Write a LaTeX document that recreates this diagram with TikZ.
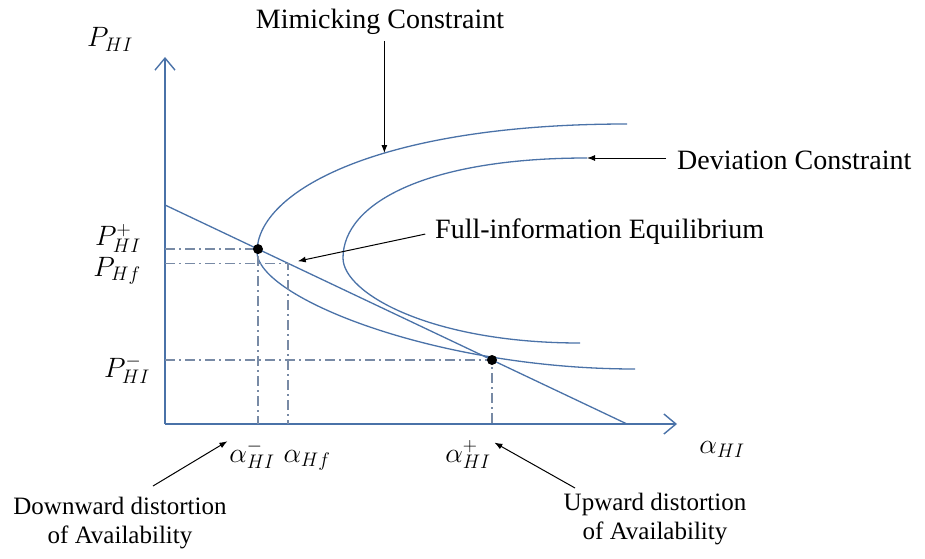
\documentclass[tikz,border=0pt]{standalone}
\usepackage{fix-cm}
\usepackage{fontspec}
\setmainfont{Liberation Serif}
\usetikzlibrary{arrows.meta,calc}

\definecolor{curveblue}{RGB}{74,114,168}
\definecolor{guidegray}{RGB}{120,138,165}

\tikzset{
  curve/.style={draw=curveblue, line width=1.3pt},
  axis/.style={draw=curveblue, line width=1.4pt, -{Straight Barb[length=12pt,width=20pt]}},
  guide/.style={draw=guidegray, line width=1.2pt, dash pattern=on 10pt off 4pt on 2pt off 4pt},
  note/.style={draw=black, line width=1pt, -{Latex[length=8pt,width=6pt]}},
  lbl/.style={font=\fontsize{28}{33}\selectfont, inner sep=0pt, anchor=base},
  title/.style={font=\fontsize{28}{32}\selectfont, inner sep=0pt},
  remark/.style={font=\fontsize{25}{29}\selectfont, inner sep=0pt, align=center}
}

\begin{document}
\begin{tikzpicture}[x=1pt,y=1pt]
    \useasboundingbox (0,0) rectangle (925,558);

    % Axes
    \coordinate (O) at (165,134);
    \draw[axis] (O) -- (165,501);
    \draw[axis] (O) -- (677,134);

    % Straight line and the points on it
    \draw[curve] (165,353) coordinate (dA) -- (627,134) coordinate (dB);
    \coordinate (eqm) at ($(dA)!0.2013!(dB)$);
    \coordinate (fi)  at ($(dA)!0.2662!(dB)$);
    \coordinate (eqp) at ($(dA)!0.7078!(dB)$);

    % Mimicking constraint
    \draw[curve] (627,434) .. controls (377,434) and (257,366) .. (257,306)
        coordinate[pos=0.41] (mc)
        .. controls (257,261) and (435,189) .. (635,189);

    % Deviation constraint
    \draw[curve] (587,400) coordinate (dc) .. controls (427,400) and (343,355) .. (343,300)
        .. controls (343,265) and (430,215) .. (580,215);

    % Guide lines
    \draw[guide] (O |- eqm) -- (eqm) -- (eqm |- O);
    \draw[guide] (O |- fi) -- (fi) -- (fi |- O);
    \draw[guide] (O |- eqp) -- (eqp) -- (eqp |- O);

    \fill (eqm) circle (5pt);
    \fill (eqp) circle (5pt);

    % Axis labels
    \node[lbl] (pt) at (110,511) {$P_{HI}$};
    \node[lbl, anchor=south] (pp) at (118,305) {$P^+_{HI}$};
    \node[lbl, anchor=north] (pf) at (117,301) {$P_{Hf}$};
    \node[lbl] (pm) at (127,181) {$P^-_{HI}$};
    \node[lbl] (am) at (252,96) {$\alpha^-_{HI}$};
    \node[lbl] (af) at (307,96) {$\alpha_{Hf}$};
    \node[lbl] (ap) at (468,96) {$\alpha^+_{HI}$};
    \node[lbl] (ax) at (722,105) {$\alpha_{HI}$};

    % Annotations
    \node[title] (mimic) at (380,536) {Mimicking Constraint};
    \node[title, anchor=west] (devtxt) at (677,398) {Deviation Constraint};
    \node[title, anchor=west] (fitxt) at (435,326) {Full-information Equilibrium};
    \node[remark] (downtxt) at (120,35) {Downward distortion\\of Availability};
    \node[remark] (uptxt) at (655,39) {Upward distortion\\of Availability};

    \draw[note, shorten <=6pt] (mc |- mimic.south) -- (mc);
    \draw[note, shorten <=11pt] (devtxt.west |- dc) -- (dc);
    \draw[note, shorten <=10pt, shorten >=10pt] (fitxt.west) -- (fi);
    \coordinate (dtail) at (153,72);
    \coordinate (utail) at (575,70);
    \draw[note, shorten >=2pt] (dtail) -- (am.north west);
    \draw[note, shorten >=4pt] (utail) -- (ap.north east);
\end{tikzpicture}
\end{document}
